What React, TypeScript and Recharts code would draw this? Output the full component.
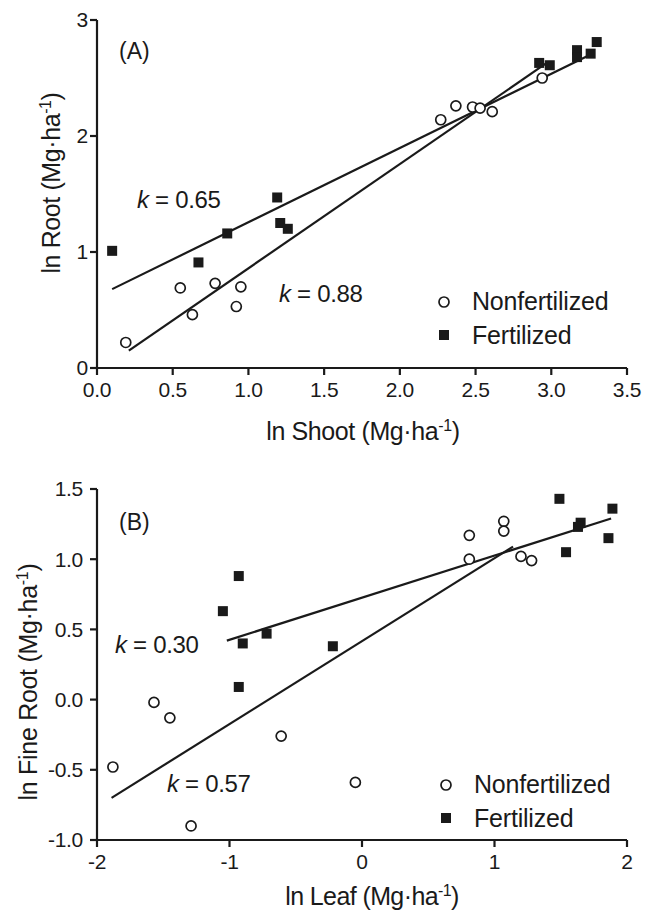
import React from 'react';
import { ScatterChart, Scatter, XAxis, YAxis, ReferenceLine } from 'recharts';

// ---------- Panel A data ----------
const shootNonfert = [0.19, 0.55, 0.63, 0.78, 0.92, 0.95, 2.27, 2.37, 2.48, 2.53, 2.61, 2.94];
const rootNonfert = [0.22, 0.69, 0.46, 0.73, 0.53, 0.7, 2.14, 2.26, 2.25, 2.24, 2.21, 2.5];
const shootFert = [0.1, 0.67, 0.86, 1.19, 1.21, 1.26, 2.92, 2.99, 3.17, 3.17, 3.26, 3.3];
const rootFert = [1.01, 0.91, 1.16, 1.47, 1.25, 1.2, 2.63, 2.61, 2.74, 2.68, 2.71, 2.81];
const fitA_fert = [{ x: 0.1, y: 0.68 }, { x: 3.27, y: 2.71 }];
const fitA_nonfert = [{ x: 0.21, y: 0.15 }, { x: 2.97, y: 2.63 }];
const ticksAX = [0, 0.5, 1, 1.5, 2, 2.5, 3, 3.5];
const ticksAY = [0, 1, 2, 3];

// ---------- Panel B data ----------
const leafNonfert = [0.81, 0.81, 1.07, 1.07, 1.2, 1.28, -1.57, -1.45, -0.61, -1.88, -0.05, -1.29];
const fineNonfert = [1.17, 1.0, 1.27, 1.2, 1.02, 0.99, -0.02, -0.13, -0.26, -0.48, -0.59, -0.9];
const leafFert = [1.49, 1.89, 1.65, 1.63, 1.86, 1.54, -0.93, -1.05, -0.72, -0.9, -0.22, -0.93];
const fineFert = [1.43, 1.36, 1.26, 1.23, 1.15, 1.05, 0.88, 0.63, 0.47, 0.4, 0.38, 0.09];
const fitB_fert = [{ x: -1.02, y: 0.42 }, { x: 1.88, y: 1.29 }];
const fitB_nonfert = [{ x: -1.89, y: -0.7 }, { x: 1.14, y: 1.09 }];
const ticksBX = [-2, -1, 0, 1, 2];
const ticksBY = [-1, -0.5, 0, 0.5, 1, 1.5];

const seriesNames = ['Nonfertilized', 'Fertilized'];

const zip = (xs: number[], ys: number[]) => xs.map((x, i) => ({ x, y: ys[i] }));

const INK = '#1a1a1a';
const FONT = '"Liberation Sans", Arial, Helvetica, sans-serif';

const OpenCircle = (props: any) => {
  const { cx, cy } = props;
  if (cx == null || cy == null) return null;
  return <circle cx={cx} cy={cy} r={5} fill="#fff" stroke={INK} strokeWidth={1.7} />;
};
const FilledSquare = (props: any) => {
  const { cx, cy } = props;
  if (cx == null || cy == null) return null;
  return <rect x={cx - 5} y={cy - 5} width={10} height={10} fill={INK} />;
};

const tickStyle = { fontSize: 21, fill: INK, fontFamily: FONT, letterSpacing: -0.3 };

const Unit = ({ base }: { base: string }) => (
  <>
    <tspan>{base} (Mg·ha</tspan>
    <tspan dy={-9} fontSize={16}>-1</tspan>
    <tspan dy={9}>)</tspan>
  </>
);

const KLabel = ({ x, y, value }: { x: number; y: number; value: string }) => (
  <text x={x} y={y} fontSize={24} fill={INK} fontFamily={FONT} letterSpacing={-0.3}>
    <tspan fontStyle="italic">k</tspan>
    <tspan> = {value}</tspan>
  </text>
);

const LegendBlock = ({ x, y }: { x: number; y: number }) => (
  <g>
    <circle cx={x} cy={y} r={5} fill="#fff" stroke={INK} strokeWidth={1.7} />
    <text x={x + 28} y={y + 8} fontSize={25} fill={INK} fontFamily={FONT} letterSpacing={-0.2}>
      {seriesNames[0]}
    </text>
    <rect x={x - 5} y={y + 33 - 5} width={10} height={10} fill={INK} />
    <text x={x + 28} y={y + 42} fontSize={25} fill={INK} fontFamily={FONT} letterSpacing={-0.2}>
      {seriesNames[1]}
    </text>
  </g>
);

const axisCommon = {
  stroke: INK,
  strokeWidth: 2.2,
  tickSize: 7,
  tick: tickStyle,
  axisLine: { stroke: INK, strokeWidth: 2.2 },
  tickLine: { stroke: INK, strokeWidth: 2.2 },
};

export default function App() {
  return (
    <div style={{ position: 'absolute', left: 0, top: 0, width: 651, height: 917, background: '#fff', fontFamily: FONT }}>
      {/* Panel A */}
      <div style={{ position: 'absolute', left: 0, top: 0 }}>
        <ScatterChart width={651} height={460} margin={{ top: 20, right: 24, bottom: 62, left: 37 }}>
          <XAxis
            type="number"
            dataKey="x"
            domain={[0, 3.5]}
            ticks={ticksAX}
            tickFormatter={(v: number) => v.toFixed(1)}
            height={30}
            tickMargin={7}
            {...axisCommon}
          />
          <YAxis
            type="number"
            dataKey="y"
            domain={[0, 3]}
            ticks={ticksAY}
            width={60}
            tickMargin={2}
            {...axisCommon}
          />
          <ReferenceLine segment={fitA_fert} stroke={INK} strokeWidth={2.2} ifOverflow="visible" />
          <ReferenceLine segment={fitA_nonfert} stroke={INK} strokeWidth={2.2} ifOverflow="visible" />
          <Scatter name={seriesNames[0]} data={zip(shootNonfert, rootNonfert)} shape={OpenCircle} isAnimationActive={false} />
          <Scatter name={seriesNames[1]} data={zip(shootFert, rootFert)} shape={FilledSquare} isAnimationActive={false} />
          <text x={119} y={59} fontSize={23} fill={INK} fontFamily={FONT}>(A)</text>
          <KLabel x={137} y={208} value="0.65" />
          <KLabel x={279} y={302} value="0.88" />
          <LegendBlock x={444} y={302} />
          <text x={363} y={440} fontSize={25} fill={INK} fontFamily={FONT} textAnchor="middle" letterSpacing={-0.4}>
            <Unit base="ln Shoot" />
          </text>
          <text x={60} y={183} fontSize={25} fill={INK} fontFamily={FONT} textAnchor="middle" letterSpacing={-0.4} transform="rotate(-90 60 183)">
            <Unit base="ln Root" />
          </text>
        </ScatterChart>
      </div>

      {/* Panel B */}
      <div style={{ position: 'absolute', left: 0, top: 460 }}>
        <ScatterChart width={651} height={457} margin={{ top: 29, right: 24, bottom: 47, left: 37 }}>
          <XAxis
            type="number"
            dataKey="x"
            domain={[-2, 2]}
            ticks={ticksBX}
            height={30}
            tickMargin={7}
            {...axisCommon}
          />
          <YAxis
            type="number"
            dataKey="y"
            domain={[-1, 1.5]}
            ticks={ticksBY}
            tickFormatter={(v: number) => v.toFixed(1)}
            width={60}
            tickMargin={7}
            {...axisCommon}
          />
          <ReferenceLine segment={fitB_fert} stroke={INK} strokeWidth={2.2} ifOverflow="visible" />
          <ReferenceLine segment={fitB_nonfert} stroke={INK} strokeWidth={2.2} ifOverflow="visible" />
          <Scatter name={seriesNames[0]} data={zip(leafNonfert, fineNonfert)} shape={OpenCircle} isAnimationActive={false} />
          <Scatter name={seriesNames[1]} data={zip(leafFert, fineFert)} shape={FilledSquare} isAnimationActive={false} />
          <text x={119} y={70} fontSize={23} fill={INK} fontFamily={FONT}>(B)</text>
          <KLabel x={115} y={193} value="0.30" />
          <KLabel x={167} y={332} value="0.57" />
          <LegendBlock x={446} y={325} />
          <text x={372} y={445} fontSize={25} fill={INK} fontFamily={FONT} textAnchor="middle" letterSpacing={-0.6}>
            <Unit base="ln Leaf" />
          </text>
          <text x={37} y={222} fontSize={25} fill={INK} fontFamily={FONT} textAnchor="middle" letterSpacing={-0.3} transform="rotate(-90 37 222)">
            <Unit base="ln Fine Root" />
          </text>
        </ScatterChart>
      </div>
    </div>
  );
}
